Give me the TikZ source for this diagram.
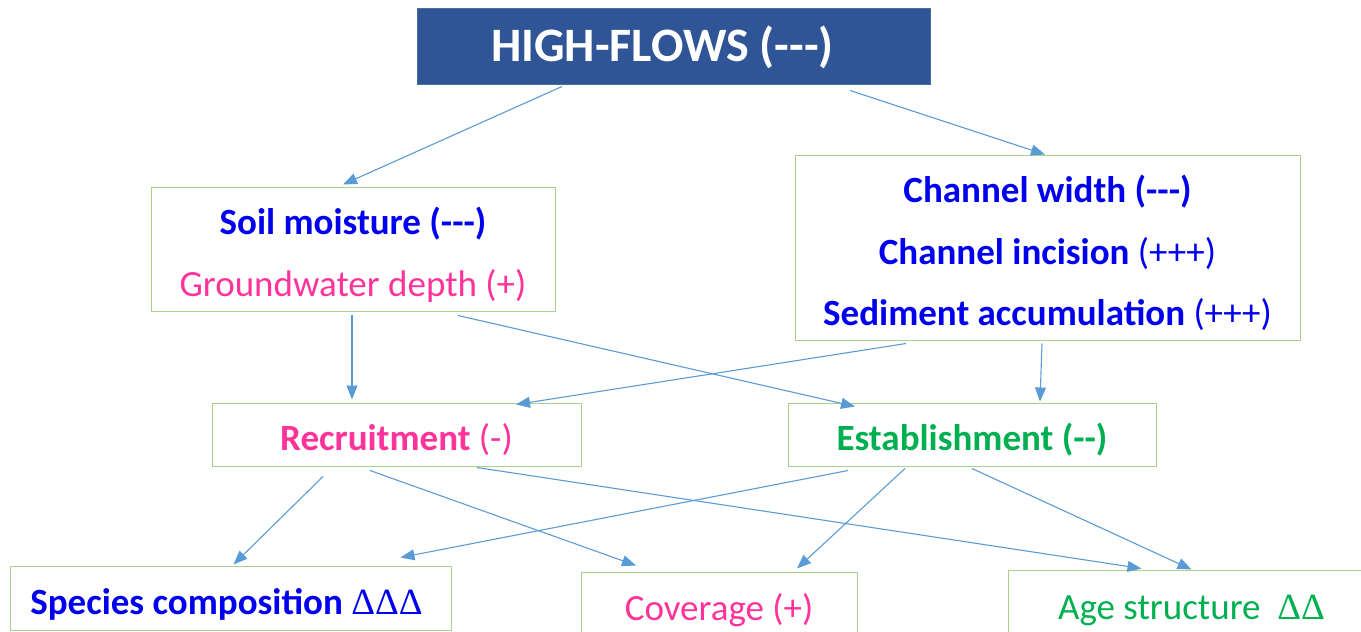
\documentclass[tikz,border=0pt]{standalone}
\usepackage{fontspec}
\setmainfont{Carlito}[Ligatures=TeXOff]
\newfontfamily\deltafont{Liberation Serif}
\usetikzlibrary{arrows.meta,calc}
\definecolor{topfill}{HTML}{2F5597}
\definecolor{topline}{HTML}{41719C}
\definecolor{boxline}{HTML}{A9D18E}
\definecolor{arrowc}{HTML}{5B9BD5}
\definecolor{tblue}{HTML}{0000EE}
\definecolor{tpink}{HTML}{FF3399}
\definecolor{tgreen}{HTML}{00B050}
\tikzset{
  gbox/.style={draw=boxline, line width=1pt, inner sep=0pt, align=center, text depth=0pt,
    font=\fontsize{37}{61.5}\selectfont},
  conn/.style={draw=arrowc, line width=1.1pt, -{Triangle[length=14pt,width=11pt]}},
}
\begin{document}
\begin{tikzpicture}[x=1pt,y=-1pt]
\useasboundingbox (0,0) rectangle (1361,632);
\clip (0,0) rectangle (1361,632);
\node[fill=topfill, draw=topline, line width=1pt, minimum width=513pt, minimum height=76pt,
  text=white, text depth=4pt, font=\fontsize{48}{50}\selectfont\bfseries] (top) at (673.5,46) {HIGH-FLOWS (---)\hspace*{22pt}};
\node[gbox, text height=94.5pt, minimum width=404pt, minimum height=124pt] (soil) at (353,249)
  {\textcolor{tblue}{\textbf{Soil moisture (---)}}\\ \textcolor{tpink}{Groundwater depth (+)}};
\node[gbox, text height=156pt, minimum width=505pt, minimum height=185pt] (chan) at (1047.5,247.5)
  {\textcolor{tblue}{\textbf{Channel width (---)}}\\
   \textcolor{tblue}{\textbf{Channel incision} (+++)}\\
   \textcolor{tblue}{\textbf{Sediment accumulation} (+++)}};
\node[gbox, text height=31pt, minimum width=369pt, minimum height=63pt, text=tpink] (rec) at (396.5,434.5)
  {\textbf{Recruitment} (-)};
\node[gbox, text height=31pt, minimum width=368pt, minimum height=63pt, text=tgreen] (est) at (972,434.5)
  {\textbf{Establishment (--)}};
\node[gbox, text height=33pt, minimum width=441pt, minimum height=64pt, text=tblue] (spec) at (230.5,598)
  {\textbf{Species composition} {\deltafont ΔΔΔ}\hspace*{8pt}};
\node[gbox, minimum width=276pt, minimum height=70pt, text=tpink] (cov) at (719,607)
  {Coverage (+)};
\node[gbox, minimum width=367pt, minimum height=74pt, text=tgreen] (age) at (1191.5,607)
  {Age structure\ \ {\deltafont ΔΔ}};
% connectors
\draw[conn] ([xshift=-111.5pt,yshift=-2pt]top.south) -- ([xshift=-10pt,yshift=2pt]soil.north);
\draw[conn] ([xshift=176.5pt,yshift=-6pt]top.south) -- ([xshift=-2.5pt,yshift=0pt]chan.north);
\draw[conn] ([xshift=-1pt,yshift=-3pt]soil.south) -- ([xshift=-44.5pt,yshift=3pt]rec.north);
\draw[conn] ([xshift=105pt,yshift=-4pt]soil.south) -- ([xshift=-117pt,yshift=-4pt]est.north);
\draw[conn] ([xshift=-141.5pt,yshift=-3pt]chan.south) -- ([xshift=119.5pt,yshift=-2pt]rec.north);
\draw[conn] ([xshift=-5.5pt,yshift=-3pt]chan.south) -- ([xshift=68pt,yshift=1pt]est.north);
\draw[conn] ([xshift=-73.5pt,yshift=-10pt]rec.south) -- ([xshift=3pt,yshift=1pt]spec.north);
\draw[conn] ([xshift=-26.5pt,yshift=-4pt]rec.south) -- ([xshift=-83pt,yshift=6pt]cov.north);
\draw[conn] ([xshift=80.5pt,yshift=-1pt]rec.south) -- ([xshift=-50pt,yshift=1pt]age.north);
\draw[conn] ([xshift=-124pt,yshift=-4pt]est.south) -- ([xshift=170pt,yshift=8pt]spec.north);
\draw[conn] ([xshift=-67pt,yshift=-2pt]est.south) -- ([xshift=78pt,yshift=3pt]cov.north);
\draw[conn] ([xshift=0pt,yshift=-2pt]est.south) -- ([xshift=0pt,yshift=0pt]age.north);
\end{tikzpicture}
\end{document}
